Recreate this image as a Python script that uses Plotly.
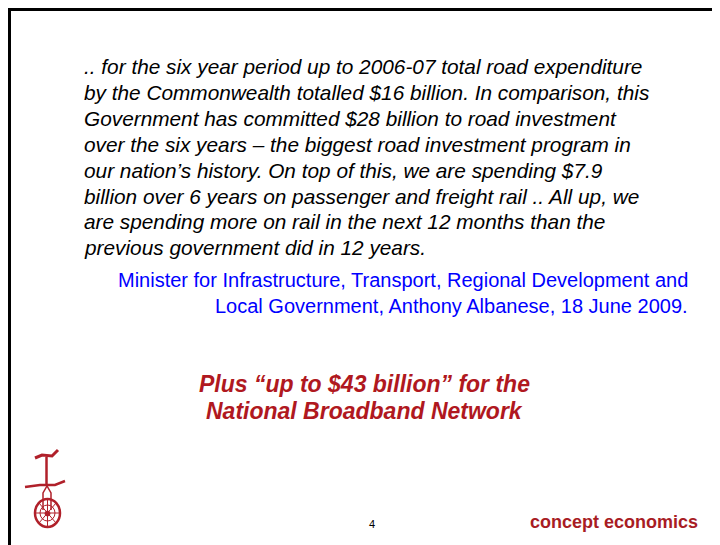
import plotly.graph_objects as go

W, H = 720, 545
OFF = 8  # page body margin

quote_lines = [
    ".. for the six year period up to 2006-07 total road expenditure",
    "by the Commonwealth totalled $16 billion. In comparison, this",
    "Government has committed $28 billion to road investment",
    "over the six years \u2013 the biggest road investment program in",
    "our nation\u2019s history. On top of this, we are spending $7.9",
    "billion over 6 years on passenger and freight rail .. All up, we",
    "are spending more on rail in the next 12 months than the",
    "previous government did in 12 years.",
]
source_lines = [
    "Minister for Infrastructure, Transport, Regional Development and",
    "Local Government, Anthony Albanese, 18 June 2009.",
]
highlight_lines = [
    "Plus \u201cup to $43 billion\u201d for the",
    "National Broadband Network",
]
page_number = "4"
brand = "concept economics"

RED = "#B01820"
BLUE = "#0000FF"


def px(x):
    return (x - OFF) / W


def py(y):
    return 1 - (y - OFF) / H


fig = go.Figure()
ann = []
for i, t in enumerate(quote_lines):
    ann.append(dict(x=px(82), y=py(66.5 + i * 25.9), text=t, xanchor="left", yanchor="middle",
                    font=dict(family="Liberation Sans, Arial", size=20.8, color="black", style="italic")))
for i, t in enumerate(source_lines):
    ann.append(dict(x=px(690), y=py(280 + i * 26), text=t, xanchor="right", yanchor="middle",
                    font=dict(family="Liberation Sans, Arial", size=20, color=BLUE)))
for i, t in enumerate(highlight_lines):
    ann.append(dict(x=px(364), y=py(384 + i * 27), text=t, xanchor="center", yanchor="middle",
                    font=dict(family="Liberation Sans, Arial", size=23, color=RED, style="italic", weight="bold")))
ann.append(dict(x=px(372), y=py(524), text=page_number, xanchor="center", yanchor="middle",
                font=dict(family="Liberation Sans, Arial", size=11, color="black")))
ann.append(dict(x=px(700), y=py(522), text=brand, xanchor="right", yanchor="middle",
                font=dict(family="Liberation Sans, Arial", size=18, color="#A81C24", weight="bold")))
for a in ann:
    a.update(xref="paper", yref="paper", showarrow=False)

LOGO = "#B0202A"
shapes = [
    # slide border
    dict(type="rect", x0=px(9.5), y0=py(9.5), x1=px(760), y1=py(580),
         line=dict(color="black", width=3), fillcolor="rgba(0,0,0,0)"),
    # unicycle wheel
    dict(type="circle", x0=px(35), y0=py(499), x1=px(60), y1=py(527),
         line=dict(color=LOGO, width=2.5)),
    dict(type="circle", x0=px(40), y0=py(505), x1=px(55), y1=py(521),
         line=dict(color=LOGO, width=1)),
    dict(type="line", x0=px(36), y0=py(513), x1=px(59), y1=py(513), line=dict(color=LOGO, width=1)),
    dict(type="line", x0=px(47.5), y0=py(500), x1=px(47.5), y1=py(526), line=dict(color=LOGO, width=1)),
    dict(type="line", x0=px(39), y0=py(503), x1=px(56), y1=py(523), line=dict(color=LOGO, width=1)),
    dict(type="line", x0=px(56), y0=py(503), x1=px(39), y1=py(523), line=dict(color=LOGO, width=1)),
    dict(type="circle", x0=px(45), y0=py(511), x1=px(50), y1=py(516), fillcolor=LOGO, line=dict(color=LOGO, width=1)),
    # fork
    dict(type="path", path=f"M {px(43)} {py(510)} L {px(43)} {py(493)} L {px(47)} {py(486)} L {px(51)} {py(493)} L {px(51)} {py(510)}",
         line=dict(color=LOGO, width=1.5)),
    # arms
    dict(type="path", path=f"M {px(25)} {py(487)} L {px(40)} {py(485)} L {px(55)} {py(485)} L {px(65)} {py(481)}",
         line=dict(color=LOGO, width=2.5)),
    # body
    dict(type="line", x0=px(46.5), y0=py(486), x1=px(46.5), y1=py(457), line=dict(color=LOGO, width=2.5)),
    # head/seat
    dict(type="path", path=f"M {px(35)} {py(458)} L {px(42)} {py(455)} L {px(52)} {py(456)} L {px(58)} {py(450)}",
         line=dict(color=LOGO, width=3)),
]
for s in shapes:
    s.setdefault("xref", "paper")
    s.setdefault("yref", "paper")

fig.update_layout(
    width=W, height=H,
    margin=dict(l=0, r=0, t=0, b=0),
    paper_bgcolor="white", plot_bgcolor="white",
    xaxis=dict(visible=False, range=[0, 1]),
    yaxis=dict(visible=False, range=[0, 1]),
    annotations=ann, shapes=shapes, showlegend=False,
)
fig.write_html("out.html")
